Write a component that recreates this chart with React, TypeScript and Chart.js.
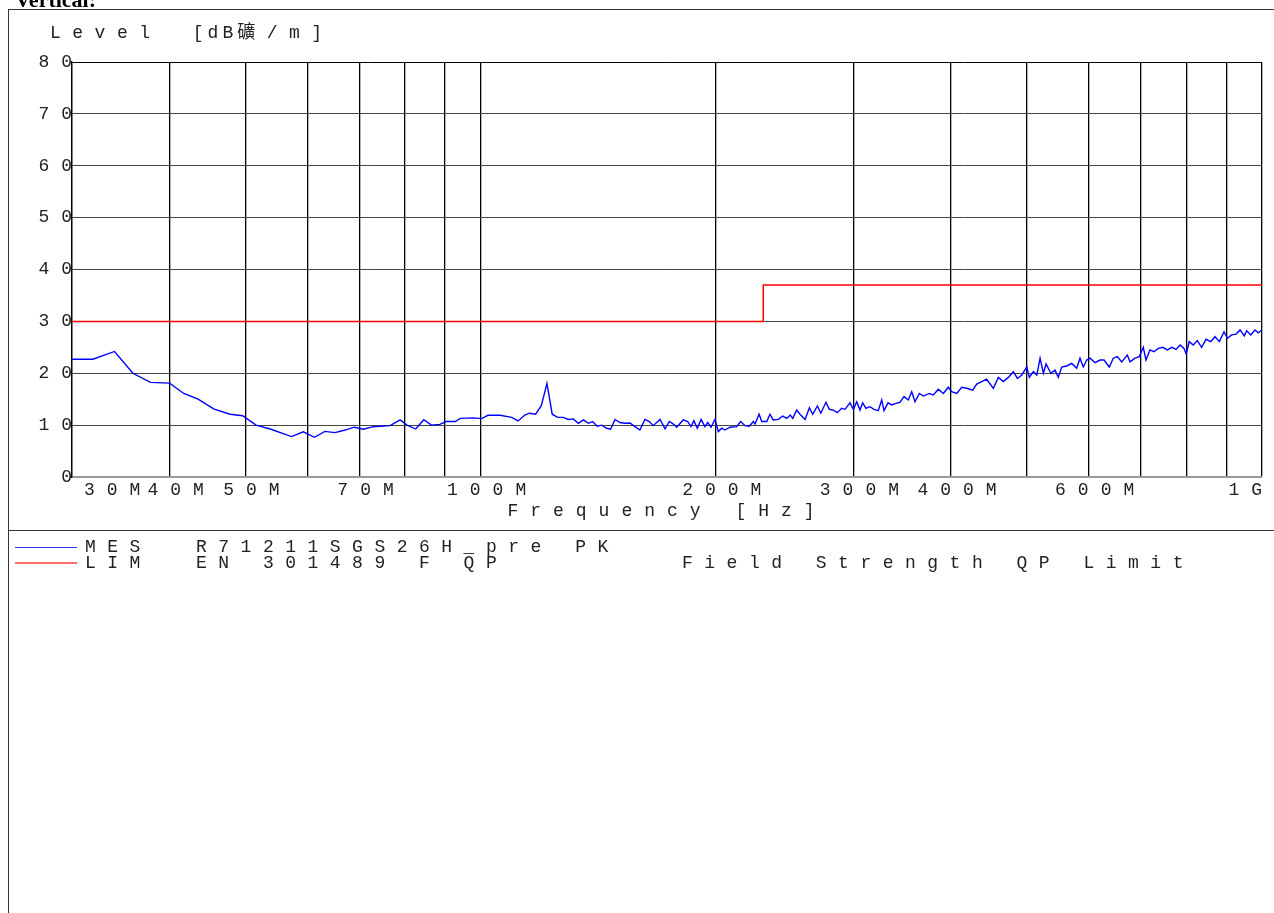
import React, { useEffect, useRef } from 'react';
import { Chart, registerables } from 'chart.js';

Chart.register(...registerables);

const FONT = "'Liberation Mono', 'Noto Sans CJK SC', monospace";
const SPACING = '11.5px';
const CANVAS_SPACING = '12px';

const xTickValues = [30, 40, 50, 60, 70, 80, 90, 100, 200, 300, 400, 500, 600, 700, 800, 900, 1000];
const xTickLabels = ['30M', '40M', '50M', '', '70M', '', '', '100M', '200M', '300M', '400M', '', '600M', '', '', '', '1G'];
const yTickValues = [0, 10, 20, 30, 40, 50, 60, 70, 80];

// MES trace: frequency (MHz) and level (dBµV/m)
const mesFreq = [
  30.0, 31.9, 34.0, 35.9, 37.8, 40.0, 41.7, 43.5, 45.6, 47.8, 49.6, 51.6, 53.8, 57.3, 59.3, 61.3, 63.2, 65.1, 67.1, 68.9,
  70.8, 72.9, 76.6, 78.9, 80.5, 82.6, 84.6, 86.5, 88.7, 90.3, 92.8, 94.2, 97.9, 100.3, 102.2, 105.9, 109.6, 111.7, 113.9, 115.5,
  117.6, 119.6, 121.6, 123.5, 125.5, 127.6, 129.5, 131.4, 133.4, 135.4, 137.4, 139.1, 141.0, 142.9, 145.0, 146.7, 148.6, 150.8, 153.0, 155.3,
  157.6, 159.9, 162.3, 164.4, 166.3, 169.7, 172.2, 174.4, 176.5, 178.2, 181.7, 184.1, 185.9, 187.5, 189.4, 191.5, 193.7, 195.3, 197.2, 199.5,
  201.5, 203.5, 205.5, 208.5, 212.7, 215.2, 218.0, 220.8, 223.4, 224.5, 227.2, 229.0, 232.4, 234.6, 236.9, 240.5, 243.6, 246.5, 249.0, 250.9,
  253.8, 256.3, 260.2, 263.5, 266.1, 269.8, 272.5, 276.7, 279.4, 282.8, 286.1, 289.8, 292.7, 297.0, 300.0, 302.9, 305.9, 308.3, 311.3, 315.0,
  318.8, 322.8, 326.1, 328.3, 332.2, 335.8, 340.2, 344.1, 348.2, 352.7, 356.2, 359.7, 364.3, 368.7, 375.2, 379.7, 385.3, 391.0, 396.8, 400.8,
  406.8, 412.8, 419.0, 426.4, 431.4, 437.8, 444.3, 453.1, 459.8, 466.6, 473.5, 480.7, 486.4, 492.7, 500.0, 503.8, 509.8, 515.0, 520.0, 525.1,
  529.3, 536.7, 543.4, 548.7, 554.2, 562.5, 570.8, 579.3, 584.9, 590.6, 596.6, 602.5, 611.4, 620.5, 627.8, 637.7, 645.2, 652.9, 661.4, 672.4,
  677.8, 687.8, 696.5, 704.8, 710.4, 718.8, 727.3, 736.6, 746.5, 756.7, 766.6, 776.3, 785.6, 794.6, 799.8, 807.1, 816.6, 826.4, 837.1, 848.0,
  859.9, 870.8, 881.9, 894.2, 902.9, 914.7, 926.4, 937.4, 949.2, 955.9, 967.2, 979.5, 989.1, 1000.0,
];
const mesLevel = [
  22.7, 22.7, 24.2, 20.0, 18.25, 18.1, 16.1, 15.0, 13.1, 12.1, 11.8, 10.0, 9.25, 7.8, 8.7, 7.65, 8.8, 8.55, 9.05, 9.6,
  9.2, 9.7, 9.9, 11.0, 10.0, 9.25, 11.05, 10.0, 10.15, 10.7, 10.7, 11.3, 11.4, 11.25, 11.9, 11.9, 11.5, 10.8, 11.95, 12.3,
  12.1, 13.75, 18.05, 12.1, 11.5, 11.5, 11.1, 11.2, 10.35, 11.0, 10.35, 10.7, 9.8, 10.0, 9.4, 9.2, 11.1, 10.5, 10.35, 10.4,
  9.7, 9.05, 11.1, 10.7, 9.9, 11.1, 9.3, 10.7, 10.2, 9.6, 11.0, 10.7, 9.7, 10.85, 9.4, 11.1, 9.7, 10.5, 9.6, 11.1,
  8.75, 9.4, 9.05, 9.6, 9.7, 10.7, 9.9, 9.8, 10.7, 10.2, 12.1, 10.7, 10.7, 12.1, 11.0, 11.1, 11.75, 11.3, 11.95, 11.3,
  12.9, 12.1, 11.1, 13.35, 12.1, 13.7, 12.3, 14.4, 13.05, 12.9, 12.4, 13.25, 13.05, 14.3, 13.05, 14.5, 12.9, 14.3, 13.25, 13.55,
  13.05, 12.8, 14.85, 12.8, 14.3, 13.9, 14.2, 14.4, 15.5, 14.85, 16.45, 14.5, 16.1, 15.6, 16.1, 15.8, 16.9, 16.1, 17.3, 16.45,
  16.1, 17.3, 17.1, 16.75, 17.9, 18.4, 18.85, 17.1, 19.2, 18.4, 19.2, 20.3, 19.0, 19.65, 21.25, 19.2, 20.3, 19.65, 22.9, 20.0,
  21.8, 20.0, 20.6, 19.2, 21.2, 21.4, 21.9, 20.95, 22.9, 21.2, 22.55, 22.9, 22.05, 22.55, 22.55, 21.2, 22.9, 23.2, 22.2, 23.5,
  22.2, 22.9, 23.2, 25.0, 22.55, 24.5, 24.15, 24.8, 25.0, 24.5, 25.0, 24.6, 25.45, 24.8, 23.7, 26.1, 25.45, 26.3, 25.0, 26.55,
  26.1, 27.05, 26.1, 28.0, 26.75, 27.4, 27.55, 28.35, 27.2, 28.2, 27.4, 28.35, 27.8, 28.35,
];

// LIM: EN 301489 F QP limit
const limFreq = [30, 230, 230, 1000];
const limLevel = [30, 30, 37, 37];

const spacingPlugin = {
  id: 'letterSpacingPlugin',
  beforeLayout(chart: any) {
    chart.ctx.letterSpacing = CANVAS_SPACING;
  },
  beforeDraw(chart: any) {
    chart.ctx.letterSpacing = CANVAS_SPACING;
  },
};

const textStyle: React.CSSProperties = {
  position: 'absolute',
  fontFamily: FONT,
  fontSize: '18px',
  lineHeight: '18px',
  letterSpacing: SPACING,
  color: '#222',
  whiteSpace: 'pre',
};

export default function App() {
  const canvasRef = useRef<HTMLCanvasElement | null>(null);

  useEffect(() => {
    document.body.style.overflow = 'hidden';
    const canvas = canvasRef.current;
    if (!canvas) return;
    const chart = new Chart(canvas, {
      type: 'line',
      data: {
        datasets: [
          {
            label: 'MES',
            data: mesFreq.map((f, i) => ({ x: f, y: mesLevel[i] })),
            borderColor: '#0000ff',
            borderWidth: 1.4,
            pointRadius: 0,
            tension: 0,
            fill: false,
          },
          {
            label: 'LIM',
            data: limFreq.map((f, i) => ({ x: f, y: limLevel[i] })),
            borderColor: '#ff0000',
            borderWidth: 1.5,
            pointRadius: 0,
            tension: 0,
            fill: false,
          },
        ],
      },
      options: {
        responsive: false,
        animation: false,
        devicePixelRatio: 1,
        layout: { autoPadding: false, padding: { left: 0, right: 12, top: 62, bottom: 0 } },
        plugins: { legend: { display: false }, tooltip: { enabled: false }, title: { display: false } },
        scales: {
          x: {
            type: 'logarithmic',
            min: 30,
            max: 1000,
            afterBuildTicks: (s: any) => {
              s.ticks = xTickValues.map((v) => ({ value: v }));
            },
            afterFit: (s: any) => {
              s.height = 51;
            },
            ticks: {
              autoSkip: false,
              maxRotation: 0,
              minRotation: 0,
              align: 'inner',
              labelOffset: 12,
              padding: 2,
              color: '#222',
              font: { family: FONT, size: 18 },
              callback: (v: any) => {
                const i = xTickValues.indexOf(Number(v));
                return i >= 0 ? xTickLabels[i] : '';
              },
            },
            grid: { color: '#000', lineWidth: 1.3, drawTicks: false },
            border: { color: '#999', width: 2 },
            title: {
              display: true,
              text: 'Frequency [Hz]',
              color: '#222',
              font: { family: FONT, size: 18 },
              padding: { top: 0, bottom: 6 },
            },
          },
          y: {
            type: 'linear',
            min: 0,
            max: 80,
            afterBuildTicks: (s: any) => {
              s.ticks = yTickValues.map((v) => ({ value: v }));
            },
            afterFit: (s: any) => {
              s.width = 72;
            },
            ticks: {
              padding: -12,
              color: '#222',
              font: { family: FONT, size: 18 },
              callback: (v: any) => String(v),
            },
            grid: {
              color: (c: any) => (c.tick && c.tick.value === 80 ? '#000' : c.tick && c.tick.value === 0 ? '#999' : '#444'),
              lineWidth: 1,
              drawTicks: false,
            },
            border: { color: '#000', width: 1.3 },
          },
        },
      },
      plugins: [spacingPlugin],
    } as any);
    return () => chart.destroy();
  }, []);

  return (
    <div>
      <canvas ref={canvasRef} width={1274} height={528} style={{ position: 'absolute', left: 0, top: 0, width: 1274, height: 528 }} />
      <div
        style={{
          position: 'absolute',
          left: 15,
          top: -11,
          fontFamily: "'Liberation Serif', serif",
          fontWeight: 'bold',
          fontSize: '22px',
          lineHeight: '22px',
          whiteSpace: 'nowrap',
        }}
      >
        Vertical:
      </div>
      <div
        style={{
          position: 'absolute',
          left: 8,
          top: 9,
          width: 1266,
          height: 904,
          boxSizing: 'border-box',
          borderTop: '1px solid #333',
          borderLeft: '1px solid #333',
        }}
      />
      <div style={{ position: 'absolute', left: 8, top: 530, width: 1266, height: 0, borderTop: '1px solid #333' }} />
      <div style={{ ...textStyle, left: 50, top: 24 }}>
        Level <span style={{ letterSpacing: '4px', marginLeft: 9 }}>[dB</span>礦/m]
      </div>
      <div style={{ position: 'absolute', left: 15, top: 547, width: 62, height: 0, borderTop: '1px solid #3030ff' }} />
      <div style={{ position: 'absolute', left: 15, top: 562, width: 62, height: 0, borderTop: '2px solid #ff6a6a' }} />
      <div style={{ ...textStyle, left: 85, top: 538 }}>MES</div>
      <div style={{ ...textStyle, left: 196, top: 538 }}>R71211SGS26H_pre PK</div>
      <div style={{ ...textStyle, left: 85, top: 554 }}>LIM</div>
      <div style={{ ...textStyle, left: 196, top: 554 }}>EN 301489 F QP</div>
      <div style={{ ...textStyle, left: 682, top: 554 }}>Field Strength QP Limit</div>
    </div>
  );
}
